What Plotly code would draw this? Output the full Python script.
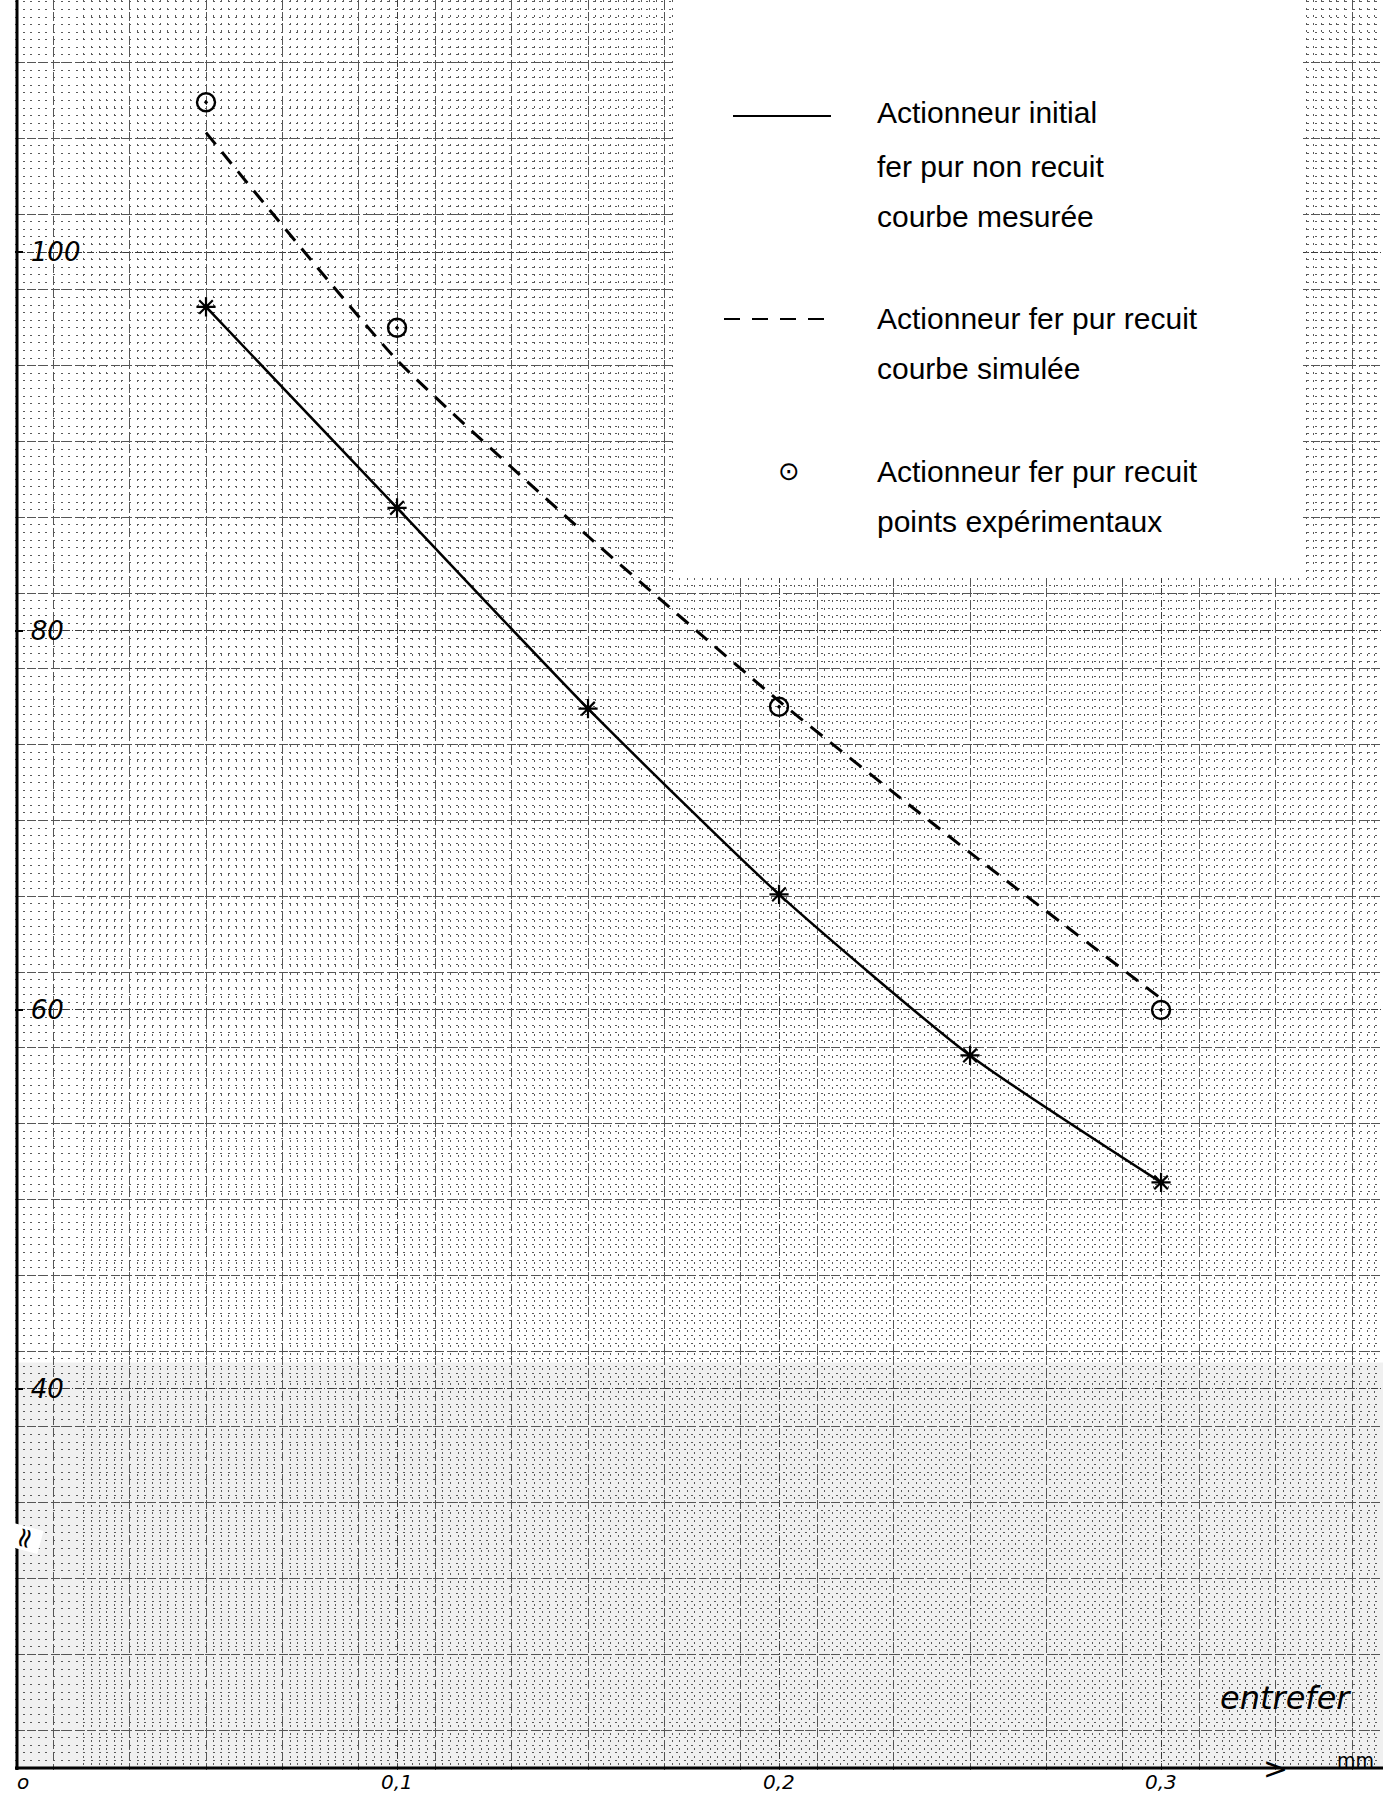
import plotly.graph_objects as go

# ---------------- data ----------------
x_measured = [0.05, 0.10, 0.15, 0.20, 0.25, 0.30]
y_measured = [97.1, 86.5, 75.9, 66.1, 57.6, 50.9]

x_simulated = [0.05, 0.10, 0.15, 0.20, 0.25, 0.30]
y_simulated = [106.3, 94.3, 85.0, 76.3, 68.3, 60.6]

x_points = [0.05, 0.10, 0.20, 0.30]
y_points = [107.9, 96.0, 76.0, 60.0]

x_tickvals = [0, 0.1, 0.2, 0.3]
x_ticktext = ["o", "0,1", "0,2", "0,3"]
y_tickvals = [40, 60, 80, 100]
y_ticktext = ["40", "60", "80", "100"]

legend_lines = [
    ["Actionneur initial", "fer pur non recuit", "courbe mesurée"],
    ["Actionneur fer pur recuit", "courbe simulée"],
    ["Actionneur fer pur recuit", "points expérimentaux"],
]

# ---------------- geometry ----------------
W, H = 1383, 1796
ML, MB = 15, 26
PW, PH = W - ML, H - MB
X_RANGE = [0, 0.3581]
Y_RANGE = [19.89, 113.30]


def px(xp):
    return (xp - ML) / PW


def py(yp):
    return 1 - yp / PH


hand_font = dict(family="DejaVu Sans", color="black", style="italic")
text_font = dict(family="Liberation Sans, Arial", color="black", size=30)

fig = go.Figure()

# measured curve (solid)
fig.add_trace(go.Scatter(
    x=x_measured, y=y_measured, mode="lines",
    line=dict(color="black", width=2.5, shape="spline", smoothing=0.6),
    showlegend=False, hoverinfo="skip"))
fig.add_trace(go.Scatter(
    x=x_measured, y=y_measured, mode="markers",
    marker=dict(symbol="asterisk-open", size=16, color="black",
                line=dict(color="black", width=2.2)),
    showlegend=False))

# simulated curve (dashed)
fig.add_trace(go.Scatter(
    x=x_simulated, y=y_simulated, mode="lines",
    line=dict(color="black", width=3, dash="15px,10px", shape="spline", smoothing=0.5),
    showlegend=False, hoverinfo="skip"))

# experimental points
fig.add_trace(go.Scatter(
    x=x_points, y=y_points, mode="markers",
    marker=dict(symbol="circle-open-dot", size=18, color="black",
                line=dict(color="black", width=2.4)),
    showlegend=False))

# overlay axes for 5 mm lines (grid only)
fig.add_trace(go.Scatter(x=[], y=[], xaxis="x2", yaxis="y2", showlegend=False))

fig.update_layout(
    width=W, height=H,
    margin=dict(l=ML, r=0, t=0, b=MB, pad=0),
    paper_bgcolor="white", plot_bgcolor="white",
    showlegend=False,
    xaxis=dict(
        range=X_RANGE, showline=False, zeroline=False,
        tickmode="array", tickvals=x_tickvals, ticktext=[""] * len(x_tickvals),
        ticks="",
        showgrid=True, gridcolor="#3a3a3a", gridwidth=1, griddash="7px,2px,1px,2px",
        minor=dict(tick0=0, dtick=0.002, showgrid=True, gridcolor="#5a5a5a",
                   gridwidth=1, griddash="2px,5.6px"),
    ),
    yaxis=dict(
        range=Y_RANGE, showline=False, zeroline=False,
        tickmode="array", tickvals=y_tickvals, ticktext=y_ticktext,
        ticklabelposition="inside", ticks="inside", ticklen=8, tickwidth=2,
        tickcolor="black", ticklabelstandoff=10,
        tickfont=dict(size=26, **hand_font),
        showgrid=True, gridcolor="#3a3a3a", gridwidth=1, griddash="7px,2px,1px,2px",
        minor=dict(tick0=0, dtick=0.4, showgrid=True, gridcolor="#5a5a5a",
                   gridwidth=1, griddash="2px,5.6px"),
    ),
    xaxis2=dict(overlaying="x", range=X_RANGE, showticklabels=False, ticks="",
                tick0=0.01, dtick=0.02, showgrid=True, gridcolor="#555555",
                gridwidth=1, griddash="9px,3px", zeroline=False),
    yaxis2=dict(overlaying="y", range=Y_RANGE, showticklabels=False, ticks="",
                tick0=2, dtick=4, showgrid=True, gridcolor="#555555",
                gridwidth=1, griddash="9px,3px", zeroline=False),
)

shapes = []
# darker, denser lower paper region
shapes.append(dict(type="rect", xref="paper", yref="y", x0=0, x1=1,
                   y0=Y_RANGE[0], y1=41.4, fillcolor="rgba(0,0,0,0.06)",
                   line=dict(width=0), layer="between"))
# white legend area
shapes.append(dict(type="rect", xref="paper", yref="paper",
                   x0=px(674), x1=px(1303), y0=py(578), y1=1.0,
                   fillcolor="white", line=dict(width=0), layer="above"))
# axes lines
shapes.append(dict(type="line", xref="paper", yref="paper", x0=px(17), x1=px(17),
                   y0=0, y1=1, line=dict(color="black", width=3)))
shapes.append(dict(type="line", xref="paper", yref="paper", x0=0, x1=1,
                   y0=py(1768), y1=py(1768), line=dict(color="black", width=3)))
# legend line samples
shapes.append(dict(type="line", xref="paper", yref="paper", x0=px(733), x1=px(831),
                   y0=py(116), y1=py(116), line=dict(color="black", width=2)))
shapes.append(dict(type="line", xref="paper", yref="paper", x0=px(724), x1=px(834),
                   y0=py(319), y1=py(319),
                   line=dict(color="black", width=2.2, dash="16px,12px")))
fig.update_layout(shapes=shapes)

ann = []
# x tick labels (handwritten, below axis)
for xv, tt in zip(x_tickvals, x_ticktext):
    ann.append(dict(text=tt, xref="x", yref="paper", x=xv, y=py(1782),
                    xanchor="left" if xv == 0 else "center", yanchor="middle",
                    showarrow=False, font=dict(size=20, **hand_font)))
# legend text
rows = [[112, 166, 217], [319, 369], [471, 521]]
for lines, ys in zip(legend_lines, rows):
    for t, yy in zip(lines, ys):
        ann.append(dict(text=t, xref="paper", yref="paper", x=px(875), y=py(yy),
                        xanchor="left", yanchor="middle", showarrow=False,
                        font=text_font))
ann.append(dict(text="⊙", xref="paper", yref="paper", x=px(789), y=py(471),
                xanchor="center", yanchor="middle", showarrow=False,
                font=dict(family="DejaVu Sans", size=26, color="black")))
# axis title / unit
ann.append(dict(text="entrefer", xref="paper", yref="paper", x=px(1285), y=py(1698),
                xanchor="center", yanchor="middle", showarrow=False,
                font=dict(size=32, **hand_font)))
ann.append(dict(text="mm", xref="paper", yref="paper", x=px(1376), y=py(1760),
                xanchor="right", yanchor="middle", showarrow=False,
                font=dict(size=19, family="DejaVu Sans", color="black")))
ann.append(dict(text="&gt;", xref="paper", yref="paper", x=px(1275), y=py(1768),
                xanchor="center", yanchor="middle", showarrow=False,
                font=dict(size=30, family="DejaVu Sans", color="black")))
# axis break mark
ann.append(dict(text="≈", xref="paper", yref="y", x=px(24), y=32.1,
                xanchor="center", yanchor="middle", showarrow=False, textangle=-75,
                bgcolor="white", borderpad=0,
                font=dict(size=28, family="DejaVu Sans", color="black")))
fig.update_layout(annotations=ann)

fig.write_html("out.html",
               config={"displayModeBar": False},
               post_script="document.body.style.margin='0';document.body.style.overflow='hidden';")
